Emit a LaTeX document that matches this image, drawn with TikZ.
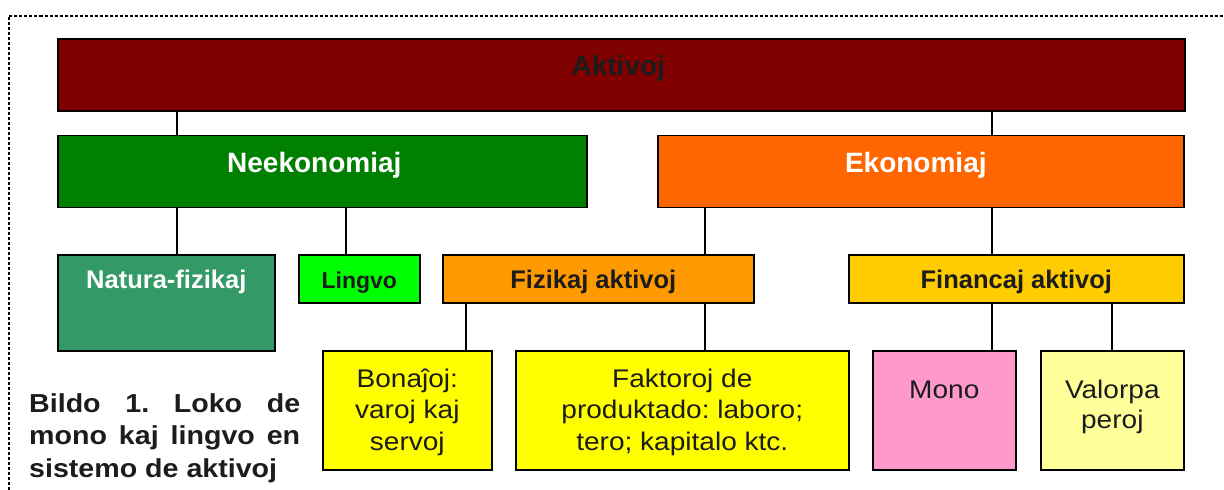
\documentclass[tikz,border=0pt]{standalone}
\usepackage{fontspec}
\setmainfont{Liberation Sans}
\newfontfamily\widefont[FakeStretch=1.1]{Liberation Sans}
\usetikzlibrary{calc}
\definecolor{cAkt}{HTML}{800000}
\definecolor{cNeek}{HTML}{008000}
\definecolor{cEkon}{HTML}{FF6600}
\definecolor{cNat}{HTML}{339966}
\definecolor{cLing}{HTML}{00FF00}
\definecolor{cFiz}{HTML}{FF9900}
\definecolor{cFin}{HTML}{FFCC00}
\definecolor{cYel}{HTML}{FFFF00}
\definecolor{cMono}{HTML}{FF99CC}
\definecolor{cVal}{HTML}{FFFF99}
\definecolor{cTxt}{HTML}{1C1C1C}
\definecolor{cFrame}{HTML}{000000}
\newcommand\stacklines[1]{\vtop{\halign{\hfil##\hfil\cr#1\crcr}}}
\frenchspacing
\begin{document}
\begin{tikzpicture}[x=1pt,y=-1pt,
  box/.style={draw=black,line width=1.6pt,inner sep=0pt,anchor=north west},
  conn/.style={draw=black,line width=1.5pt},
  ttl/.style={anchor=base,inner sep=0pt,font=\fontsize{28}{32}\selectfont\bfseries},
  sub/.style={anchor=base,inner sep=0pt,text=cTxt,font=\fontsize{25.5}{30}\selectfont\bfseries},
  body/.style={anchor=base,inner sep=0pt,text=cTxt,font=\widefont\fontsize{25.5}{31.5}\selectfont},
  frame/.style={draw=cFrame,line width=2pt,dash pattern=on 3pt off 2pt}
]
\useasboundingbox (0,0) rectangle (1224,490);
\fill[white] (0,0) rectangle (1224,490);
\draw[frame] (9,490) -- (9,15.5) -- (1224,15.5);

% boxes
\node[box,fill=cAkt,minimum width=1127,minimum height=72] (akt) at (57,38) {};
\node[box,fill=cNeek,minimum width=529,minimum height=72] (neek) at (57,134.5) {};
\node[box,fill=cEkon,minimum width=526,minimum height=72] (ekon) at (657,134.5) {};
\node[box,fill=cNat,minimum width=217,minimum height=96] (nat) at (57,254) {};
\node[box,fill=cLing,minimum width=121,minimum height=48] (ling) at (298,254) {};
\node[box,fill=cFiz,minimum width=311,minimum height=48] (fiz) at (442,254) {};
\node[box,fill=cFin,minimum width=335,minimum height=48] (fin) at (848,254) {};
\node[box,fill=cYel,minimum width=169,minimum height=119] (bon) at (322,350) {};
\node[box,fill=cYel,minimum width=333,minimum height=119] (fak) at (515,350) {};
\node[box,fill=cMono,minimum width=143,minimum height=119] (mono) at (872,350) {};
\node[box,fill=cVal,minimum width=143,minimum height=119] (val) at (1040,350) {};

% texts
\node[ttl,text=cTxt] (tAkt) at ($(akt.north)+(-3,37)$) {Aktivoj};
\node[ttl,text=white] (tNeek) at ($(neek.north)+(-8,37.5)$) {Neekonomiaj};
\node[ttl,text=white] (tEkon) at ($(ekon.north)+(-5,37.5)$) {Ekonomiaj};
\node[sub,text=white] (tNat) at ($(nat.north)+(0,34)$) {Natura-fizikaj};
\node[sub,font=\fontsize{23}{28}\selectfont\bfseries] (tLing) at ($(ling.north)+(0,34)$) {Lingvo};
\node[sub] (tFiz) at ($(fiz.north)+(-5,34)$) {Fizikaj aktivoj};
\node[sub] (tFin) at ($(fin.north)+(0,34)$) {Financaj aktivoj};
\node[body] (tBon) at ($(bon.north)+(0,37)$) {\stacklines{Bonaĵoj:\cr varoj kaj\cr servoj}};
\node[body] (tFak) at ($(fak.north)+(0,37)$) {\stacklines{Faktoroj de\cr produktado: laboro;\cr tero; kapitalo ktc.}};
\node[body] (tMono) at ($(mono.north)+(0,48)$) {Mono};
\node[body,font=\widefont\fontsize{25.5}{30}\selectfont] (tVal) at ($(val.north)+(0,48)$) {\stacklines{Valorpa\cr peroj}};

% caption
\node[anchor=base west,inner sep=0pt,text=cTxt,font=\widefont\fontsize{26}{32.5}\selectfont\bfseries] (cap) at (29,412)
  {\vtop{\hsize=271pt\parindent=0pt\hbadness=10000 Bildo 1. Loko de\linebreak mono kaj lingvo en\linebreak sistemo de aktivoj}};

% connector x positions
\coordinate (xa) at (177,0);
\coordinate (xb) at (992,0);
\coordinate (xc) at (346,0);
\coordinate (xd) at (705,0);
\coordinate (xe) at (466,0);
\coordinate (xf) at (1112,0);

\draw[conn] (akt.south -| xa) -- (neek.north -| xa);
\draw[conn] (akt.south -| xb) -- (ekon.north -| xb);
\draw[conn] (neek.south -| xa) -- (nat.north -| xa);
\draw[conn] (neek.south -| xc) -- (ling.north -| xc);
\draw[conn] (ekon.south -| xd) -- (fiz.north -| xd);
\draw[conn] (ekon.south -| xb) -- (fin.north -| xb);
\draw[conn] (fiz.south -| xe) -- (bon.north -| xe);
\draw[conn] (fiz.south -| xd) -- (fak.north -| xd);
\draw[conn] (fin.south -| xb) -- (mono.north -| xb);
\draw[conn] (fin.south -| xf) -- (val.north -| xf);
\end{tikzpicture}
\end{document}
